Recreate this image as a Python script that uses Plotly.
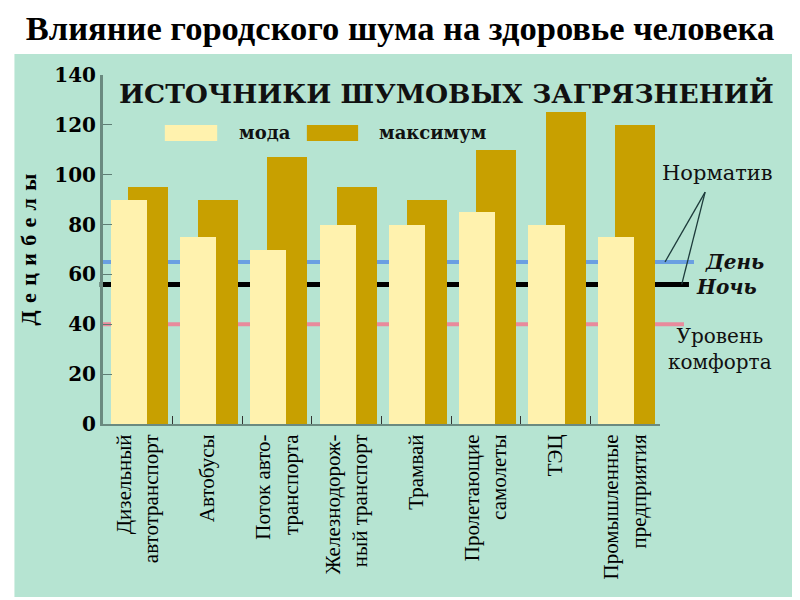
import plotly.graph_objects as go

categories = [
    "Дизельный<br>автотранспорт",
    "Автобусы",
    "Поток авто-<br>транспорта",
    "Железнодорож-<br>ный транспорт",
    "Трамвай",
    "Пролетающие<br>самолеты",
    "ТЭЦ",
    "Промышленные<br>предприятия",
]
moda = [90, 75, 70, 80, 80, 85, 80, 75]
maximum = [95, 90, 107, 95, 90, 110, 125, 120]

norm_day = 65
norm_night = 56
comfort = 40

y_ticks = [0, 20, 40, 60, 80, 100, 120, 140]

PANEL = "#b6e4d2"
LIGHT = "#fff2ae"
DARK = "#c8a000"

fig = go.Figure()
fig.add_trace(go.Bar(x=categories, y=maximum, name="максимум", marker_color=DARK,
                     marker_line_width=0, offset=-0.14, width=0.575, showlegend=False))
fig.add_trace(go.Bar(x=categories, y=moda, name="мода", marker_color=LIGHT,
                     marker_line_width=0, offset=-0.39, width=0.52, showlegend=False))

shapes = [
    dict(type="rect", xref="paper", yref="paper", x0=-0.159, x1=1.244, y0=-0.496, y1=1.06,
         fillcolor=PANEL, line_width=0, layer="below"),
    dict(type="line", xref="paper", yref="y", x0=0.0, x1=1.061, y0=norm_day, y1=norm_day,
         line=dict(color="#6a9fe2", width=4), layer="below"),
    dict(type="line", xref="paper", yref="y", x0=-0.006, x1=1.052, y0=norm_night, y1=norm_night,
         line=dict(color="#000000", width=5), layer="below"),
    dict(type="line", xref="paper", yref="y", x0=0.0, x1=1.043, y0=comfort, y1=comfort,
         line=dict(color="#e98a9c", width=4), layer="below"),
    # leader lines from "Норматив"
    dict(type="line", xref="paper", yref="y", x0=1.081, y0=93, x1=1.009, y1=norm_day,
         line=dict(color="#1d3b3b", width=1.3)),
    dict(type="line", xref="paper", yref="y", x0=1.081, y0=93, x1=1.039, y1=norm_night,
         line=dict(color="#1d3b3b", width=1.3)),
    # legend swatches
    dict(type="rect", xref="paper", yref="paper", x0=0.111, x1=0.205, y0=0.811, y1=0.857,
         fillcolor=LIGHT, line_width=0),
    dict(type="rect", xref="paper", yref="paper", x0=0.366, x1=0.458, y0=0.811, y1=0.857,
         fillcolor=DARK, line_width=0),
]

serif = "DejaVu Serif"
ink = "#111111"
annotations = [
    dict(text="ИСТОЧНИКИ ШУМОВЫХ ЗАГРЯЗНЕНИЙ", xref="paper", yref="paper", x=0.616, y=0.948,
         xanchor="center", yanchor="middle", showarrow=False,
         font=dict(family=serif, size=26.5, color=ink, weight="bold")),
    dict(text="мода", xref="paper", yref="paper", x=0.2406, y=0.834, xanchor="left", yanchor="middle",
         showarrow=False, font=dict(family=serif, size=18, color=ink, weight="bold")),
    dict(text="максимум", xref="paper", yref="paper", x=0.492, y=0.834, xanchor="left", yanchor="middle",
         showarrow=False, font=dict(family=serif, size=18, color=ink, weight="bold")),
    dict(text="Норматив", xref="paper", yref="y", x=1.1024, y=100.8, xanchor="center", yanchor="middle",
         showarrow=False, font=dict(family=serif, size=21, color=ink)),
    dict(text="День", xref="paper", yref="y", x=1.133, y=norm_day, xanchor="center", yanchor="middle",
         showarrow=False, font=dict(family=serif, size=20, color=ink, weight="bold", style="italic")),
    dict(text="Ночь", xref="paper", yref="y", x=1.1185, y=55, xanchor="center", yanchor="middle",
         showarrow=False, font=dict(family=serif, size=20, color=ink, weight="bold", style="italic")),
    dict(text="Уровень<br>комфорта", xref="paper", yref="y", x=1.108, y=30, xanchor="center",
         yanchor="middle", showarrow=False, font=dict(family=serif, size=20, color=ink)),
]

fig.update_layout(
    width=800, height=600,
    margin=dict(l=95, r=148, t=67, b=184),
    paper_bgcolor="white",
    plot_bgcolor="rgba(0,0,0,0)",
    barmode="overlay",
    bargap=0,
    title=dict(text="<b>Влияние городского шума на здоровье человека</b>",
               x=0.49, xanchor="center", y=0.9667, yanchor="middle",
               font=dict(family="Liberation Serif", size=34.5, color="black")),
    shapes=shapes,
    annotations=annotations,
)

fig.update_xaxes(
    type="category", range=[-0.5, len(categories) - 0.5],
    tickson="boundaries", ticks="inside", ticklen=8, tickcolor="#333333",
    tickangle=-90, tickfont=dict(family="Liberation Serif", size=21, color="black"),
    showline=True, linecolor="#6b8a80", linewidth=2, showgrid=False, zeroline=False,
)
fig.update_yaxes(
    range=[0, 140], tickvals=y_ticks, ticks="inside", ticklen=9, tickcolor="#5e7d74",
    tickfont=dict(family=serif, size=20, color="black", weight="bold"),
    showline=True, linecolor="#6b8a80", linewidth=3, showgrid=False, zeroline=False,
    title=dict(text="Д\u2004е\u2004ц\u2004и\u2004б\u2004е\u2004л\u2004ы", standoff=12,
               font=dict(family="Liberation Serif", size=22, color="black", weight="bold")),
)

fig.write_html("out.html")
